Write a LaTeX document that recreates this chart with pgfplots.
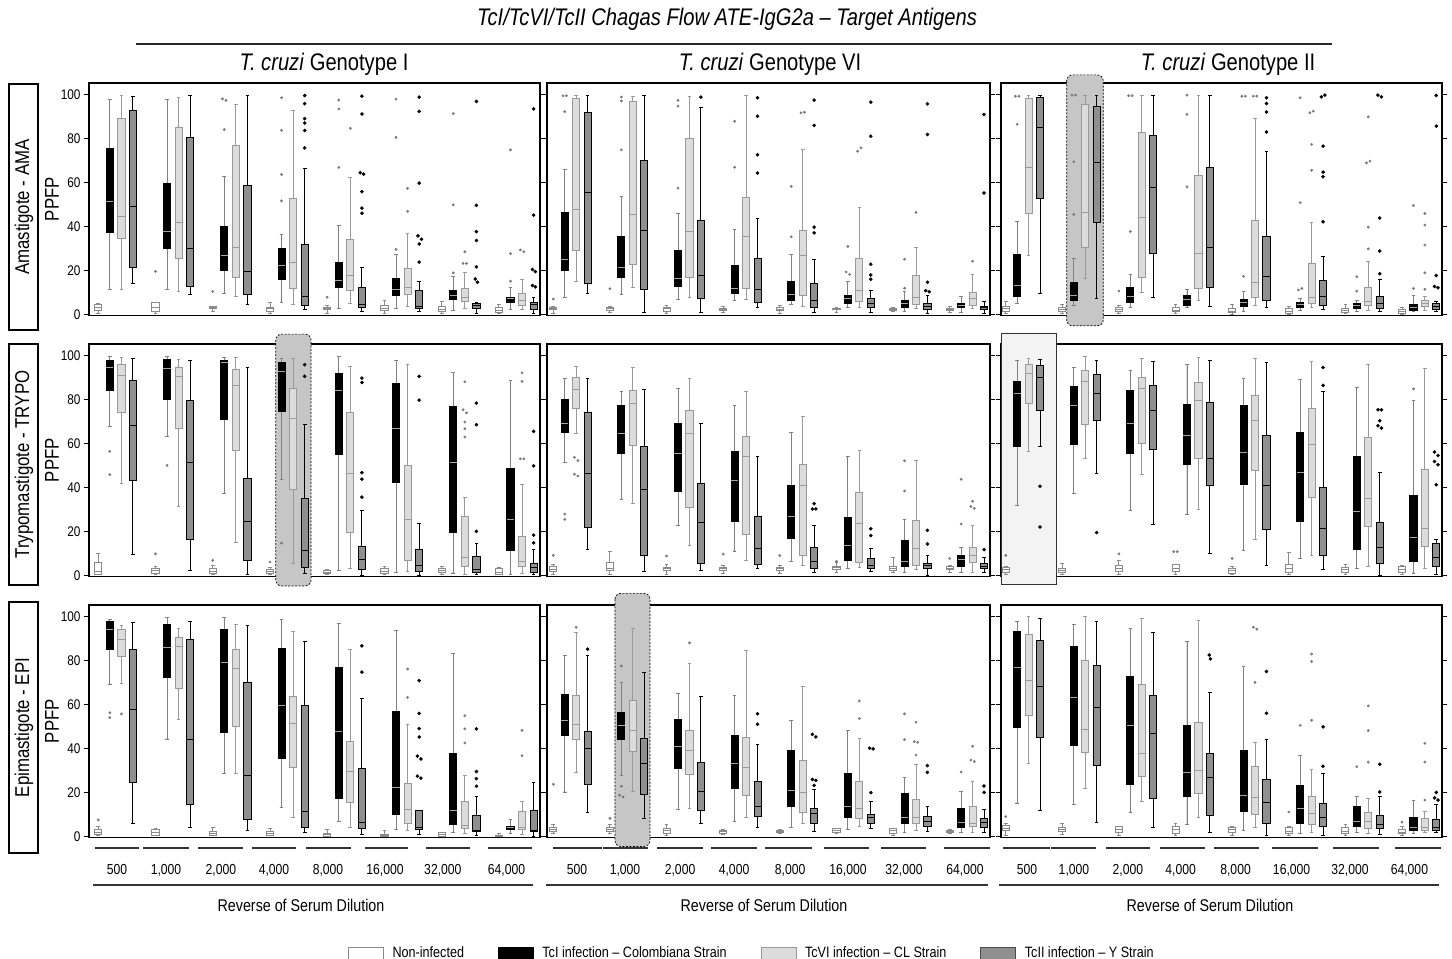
\documentclass[border=0pt]{standalone}
\usepackage{fontspec}
\setmainfont{Liberation Sans}[FakeStretch=0.84]
\usepackage{pgfplots}
\pgfplotsset{compat=1.18}
\usepgfplotslibrary{statistics}
\definecolor{ngray}{HTML}{8A8A8A}
\definecolor{vfill}{HTML}{DCDCDC}
\definecolor{vline}{HTML}{9A9A9A}
\definecolor{tfill}{HTML}{8F8F8F}
\definecolor{ogray}{HTML}{7A7A7A}
\definecolor{hlgray}{HTML}{C6C6C6}
\definecolor{hllight}{HTML}{F3F3F3}
\tikzset{hlD/.style={fill=hlgray, draw=black, dash pattern=on 2pt off 1.5pt, line width=0.7pt, rounded corners=6pt}}
\pgfplotsset{
 Nst/.style={draw=ngray, fill=white, line width=0.9pt, boxplot/every whisker/.style={draw=ngray}, boxplot/every median/.style={draw=ngray}},
 Ist/.style={draw=black, fill=black, line width=0.9pt, boxplot/every whisker/.style={draw=gray}, boxplot/every median/.style={draw=gray!70}},
 Vst/.style={draw=vline, fill=vfill, line width=0.9pt, boxplot/every whisker/.style={draw=vline}, boxplot/every median/.style={draw=vline}},
 Tst/.style={draw=black, fill=tfill, line width=0.9pt, boxplot/every whisker/.style={draw=black}, boxplot/every median/.style={draw=black}},
 Og/.style={only marks, mark=*, mark size=1.2pt, color=ogray},
 Ob/.style={only marks, mark=*, mark size=1.6pt, color=black},
 panel/.style={scale only axis, height=232.5pt, ymin=-0.5, ymax=105.2, ytick={0,20,40,60,80,100},
   ytick pos=both, tick align=outside, major tick length=5pt, xtick=\empty, clip=false,
   axis line style={line width=1.1pt}, every tick/.style={black, line width=0.8pt},
   tick label style={font=\fontsize{14}{16}\selectfont}, /pgf/number format/assume math mode=true,
   boxplot/draw direction=y, boxplot/box extend=0.62, boxplot/whisker extend=0.32, anchor=north west},
 cA/.style={width=451pt, xmin=-0.8, xmax=38.2, ylabel={PPFP},
   ylabel style={at={(axis description cs:-0.082,0.5)}, anchor=center, font=\fontsize{20}{22}\selectfont}},
 cB/.style={width=443pt, xmin=-0.55, xmax=38.17, yticklabel=\empty},
 cC/.style={width=441pt, xmin=-0.41, xmax=38.15, yticklabel=\empty},
 bot/.style={xtick style={draw=none}, xticklabel style={anchor=base, yshift=-32pt, font=\fontsize{14.5}{16}\selectfont}},
 lgbox/.style={legend image code/.code={\draw[##1] (0pt,-6pt) rectangle (35pt,6pt);}},
}
\newcommand\bx[7]{\addplot[#1,boxplot prepared={draw position=#2,lower whisker=#3,lower quartile=#4,median=#5,upper quartile=#6,upper whisker=#7}] coordinates {};}
\def\bxd#1#2#3,#4,#5,#6,#7\relax{\bx{#1}{#2}{#3}{#4}{#5}{#6}{#7}}
\newcommand\grp[5]{%
 \pgfmathsetmacro\pA{#1+1}\pgfmathsetmacro\pB{#1+2}\pgfmathsetmacro\pC{#1+3}%
 \edef\temp{\noexpand\bxd{Nst}{#1}#2\relax\noexpand\bxd{Ist}{\pA}#3\relax\noexpand\bxd{Vst}{\pB}#4\relax\noexpand\bxd{Tst}{\pC}#5\relax}%
 \temp}
\newcommand\fs[1]{\fontsize{#1}{#1}\selectfont}
\begin{document}
\begin{tikzpicture}
\useasboundingbox (0,0) rectangle (1452pt,-959pt);
% ---------------- Row 1 ----------------
\begin{axis}[panel, cA, at={(89pt,-83pt)}]
\grp{0}{0.5,2,3,4.5,5}{11.5,37.1,51.3,75.4,97.9}{11.5,34.7,44.6,89.1,99.5}{14.3,21.4,49.2,92.5,99.2}
\grp{4.95}{0.5,1.4,3.3,5.3,5.5}{11.5,30,37.7,59.4,97.9}{10.6,25.3,41.6,84.8,98.8}{9,12.7,29.9,80.5,99.5}
\grp{9.9}{1.5,2.6,3,3.5,3.8}{9.5,20.2,27,40,62.9}{8.3,17,30.5,76.8,95.6}{4.7,9.2,19.5,58.8,99.4}
\grp{14.85}{0.5,1.5,2.5,3.3,5.3}{5.6,15.7,22.2,29.9,36.2}{4.7,11.8,23.8,52.5,92.9}{2.3,3.9,8.3,32,66.2}
\grp{19.8}{0.5,2.1,2.7,3.3,4}{2.7,12.1,15.5,23.5,40.6}{5,10.9,17.6,34.2,62.4}{1.5,3.3,4.5,12.2,21.4}
\grp{24.75}{0.3,1.7,2.5,3.9,6.3}{2.6,8.7,11.3,16.3,27.1}{3.6,9.2,12.4,21,36.8}{1.2,2.7,3.6,10.9,15.1}
\grp{29.7}{0.5,1.4,2.3,3.5,6}{1.8,6.6,8.6,10.9,17.2}{2.6,5.9,7.7,11.9,18.9}{0.3,2.6,4.1,5.1,5.3}
\grp{34.65}{0.3,1.1,2,3.3,4.5}{2.1,5.3,7.4,7.7,12.2}{2.3,4.1,6.2,9.5,15.7}{0.3,2.1,4.4,5.6,7.8}
\addplot[Og] coordinates {(4.95,19.6) (9.9,10.4) (10.75,98) (11.05,97.3) (10.9,84) (15.85,98.5) (15.85,83.7) (15.85,63.6) (15.85,51.6) (19.8,7.8) (20.8,97.4) (20.8,93.4) (20.8,66.8) (21.8,84.6) (25.75,97.9) (25.75,80.5) (25.75,29.6) (26.75,57.3) (26.75,46.9) (30.7,91.3) (30.7,49.8) (30.7,18.9) (31.55,23.2) (31.85,23.2) (31.7,28.5) (35.65,74.8) (35.65,27.6) (35.65,15.1) (36.5,29.3) (36.8,28.5)};
\addplot[Ob] coordinates {(17.85,99.5) (17.85,95.8) (17.85,89) (17.85,87) (17.85,83.6) (17.85,75.7) (22.8,99.2) (22.8,91.1) (22.65,64.4) (22.95,63.8) (22.8,55.8) (22.8,48.3) (22.8,46) (27.75,98.8) (27.75,92.3) (27.75,59.7) (27.65,35.7) (27.95,34.2) (27.75,32) (27.75,23.8) (32.7,96.8) (32.7,49.6) (32.7,37.6) (32.7,33.6) (32.7,21.6) (32.6,16.1) (32.8,14.6) (37.65,93.4) (37.65,45.1) (37.55,20.4) (37.8,19.5) (37.55,13.1) (37.8,12.5)};
\end{axis}
\begin{axis}[panel, cB, at={(547pt,-83pt)}]
\grp{0}{0.5,2.3,2.7,3,3.5}{7.9,20.2,24.8,46.5,65.8}{14.9,29,47.6,98.2,99.7}{9.4,14.1,55.5,91.6,99.7}
\grp{4.95}{0.8,2,2.5,3,3.5}{9.1,16.7,21.3,35.3,53.6}{12.2,22.5,45.3,97,99.2}{0.9,11.4,38.1,69.8,99.7}
\grp{9.9}{0.5,1.5,2.5,3.2,4}{6.7,12.6,16.3,29.2,45.7}{7.6,16.7,37.5,79.8,99.2}{0.8,7.3,17.6,42.9,94.1}
\grp{14.85}{1,1.8,2.3,2.7,3.5}{6.4,9.3,11.7,22.2,38.8}{6.8,12,35.6,53.3,99.7}{3,5.3,11.4,25.4,43.8}
\grp{19.8}{0.5,1.7,2.3,3,4}{4.7,6.2,9.1,14.9,27.1}{3.8,8.8,26.6,38,75.2}{0.8,3.3,6.5,14,24.8}
\grp{24.75}{1,2.1,2.5,2.9,3.3}{3.3,5.2,7.3,8.7,15}{3.3,5.8,10.8,25.4,48.8}{0.8,3.2,5,7.3,10.8}
\grp{29.7}{1.2,2,2.3,2.7,3}{1.2,3.3,4.9,6.2,10.6}{2.7,4.7,7.9,17.9,30.4}{0.5,2.4,3.6,5,8.8}
\grp{34.65}{1,1.8,2.3,2.9,3.5}{0.9,3,4.1,4.9,8.2}{2.7,4,7.1,10.2,18.2}{0.5,2.4,3.2,3.8,6.1}
\addplot[Og] coordinates {(0,7) (0.85,99.4) (1.15,99.4) (1,92.2) (4.95,11.7) (5.95,98.8) (5.95,97) (5.95,74.8) (10.9,97.3) (10.9,94.7) (10.9,57.4) (15.85,87.8) (15.85,66.9) (20.8,58.2) (20.8,35.3) (21.65,91.6) (21.95,91.9) (25.75,30.9) (25.6,19.3) (25.9,18.2) (26.6,74.2) (26.9,75.7) (30.7,25.1) (30.7,11.9) (31.7,46.4) (36.65,24.2)};
\addplot[Ob] coordinates {(12.9,98.8) (17.85,98.5) (17.85,90.1) (17.85,72.6) (17.85,64.3) (22.8,97.4) (22.8,85.9) (22.8,39.7) (22.8,37.1) (27.75,96.5) (27.75,81) (27.75,22.8) (27.75,17.9) (27.75,16) (32.7,95.7) (32.7,81.8) (32.7,14.6) (32.55,10.8) (32.85,10.3) (37.65,90.9) (37.65,55.2)};
\end{axis}
\begin{axis}[panel, cC, at={(1001pt,-83pt)}]
\draw[hlD] (axis cs:5.33,108.9) rectangle (axis cs:8.53,-5.2);
\grp{0}{0.3,1.5,2.5,3.6,6}{4.8,8,13,27.3,42.4}{27,45.8,66.7,98.2,99.7}{9.5,52.6,84.8,98.5,99.7}
\grp{4.95}{0.5,1.5,2.3,3.3,4.5}{3.9,6.4,8.8,14.4,25.6}{16.4,30.6,46.4,95.5,99.7}{7.4,41.8,69.2,94.7,99.7}
\grp{9.9}{0.5,1.5,2.3,3.2,4}{3.3,5.3,8,12.3,18.3}{10.2,17,43.9,82.6,99.7}{7.6,27.7,57.9,81.5,99.7}
\grp{14.85}{0.3,1.2,2,3.3,4.5}{3,4.2,6.8,8.8,11.5}{6.5,11.8,27.7,63.2,99.7}{3.5,12.1,30.6,66.7,99.7}
\grp{19.8}{0.2,0.8,1.5,2.7,4.5}{1.5,3.6,5.6,6.7,10.5}{4.2,7.6,14.5,42.7,88.9}{3.3,6.4,17.1,35.5,74.2}
\grp{24.75}{0.2,0.6,1.5,2.6,3.5}{2,3.3,4.5,5.6,7.3}{3,5.2,7.6,23.2,42}{2.3,3.9,8.3,15.5,26.5}
\grp{29.7}{0.3,1.1,1.8,2.7,4.5}{1.5,2.7,4.1,5,6.4}{2,3.9,5.8,12.4,23.9}{1.5,2.9,5.2,8.3,16.1}
\grp{34.65}{0.2,0.6,1.5,2.3,3}{1.2,2,3.3,4.5,8.8}{2,3.6,5,6.4,8}{1.2,2.4,3.8,5,6.1}
\addplot[Og] coordinates {(0.85,99.2) (1.15,99.2) (1,86.4) (5.8,99.7) (6.1,99.7) (5.95,69.4) (5.95,45.5) (9.9,10.6) (10.75,99.4) (11.05,99.4) (10.9,37.7) (15.85,99.7) (15.85,90.9) (15.85,58) (20.8,17.3) (20.65,99.2) (20.95,99.2) (21.65,99.2) (21.95,99.2) (25.75,98.5) (25.75,50.8) (25.6,11.1) (25.9,11.8) (26.6,91.7) (26.9,92.4) (26.75,77.3) (26.75,65.5) (30.7,17.1) (30.7,10.6) (31.7,89.8) (31.55,68.9) (31.85,69.7) (31.7,39.7) (31.7,29.8) (35.65,49.5) (35.65,11.8) (36.65,45.9) (36.65,40.6) (36.65,31.5) (36.65,18.9) (36.65,11.4)};
\addplot[Ob] coordinates {(22.8,98.5) (22.8,95.9) (22.8,92) (22.8,82.9) (27.6,98.9) (27.9,99.7) (27.75,76.5) (27.75,64.7) (27.75,62.6) (27.75,42.1) (32.55,99.7) (32.85,98.9) (32.7,43.8) (32.7,28.8) (32.7,18.5) (37.65,99.5) (37.65,85.6) (37.65,17.7) (37.5,12.7) (37.8,12.1)};
\end{axis}
% ---------------- Row 2 ----------------
\begin{axis}[panel, cA, at={(89pt,-344pt)}]
\draw[hlD] (axis cs:15.35,109.7) rectangle (axis cs:18.4,-4.8);
\grp{0}{0.3,0.6,1.8,5.9,10.2}{67.9,84.1,94.5,97.9,99.5}{41.7,74.1,90.8,96.1,99.1}{9.4,43.2,68.3,88.6,98.5}
\grp{4.95}{0.5,1.1,2.2,3.3,4}{63.2,79.8,94.2,98.2,99.5}{31.2,66.8,90.3,94.7,98.2}{2.3,16.2,51.5,79.4,97.6}
\grp{9.9}{0.3,1.1,2,3,4.5}{37.4,71.1,96.8,97.6,99.2}{15,57,86.5,93.8,99.2}{0.6,6.7,24.4,44.2,94.5}
\grp{14.85}{0.5,1.1,1.8,2.6,3.5}{43.6,74.7,92.6,96.8,98.8}{5.5,39.1,71.5,85.2,98.5}{1.1,3.5,11.2,34.8,68.5}
\grp{19.8}{0.5,0.9,1.5,2.1,2.5}{2.4,54.8,83.9,92,99.5}{3.2,19.4,46.5,74.2,94.8}{0.2,2.7,7.1,13.3,29.4}
\grp{24.75}{0.3,1.1,2,3,4}{1.4,42.4,66.8,87.1,97.6}{1.7,6.7,25.6,49.8,95.8}{0.2,1.8,4.4,12,23.8}
\grp{29.7}{0.5,1.2,2.3,3.3,4}{1.1,19.4,51.5,77,92.3}{0.3,4.2,8.3,27,35.6}{0.6,1.5,2.6,8.5,14.4}
\grp{34.65}{0.3,0.6,1.5,3,3.5}{0.3,11.5,25.3,48.6,88.5}{1.1,4.1,6.4,17.9,41.2}{0.6,1.4,3.6,5.5,11.8}
\addplot[Og] coordinates {(1,56.4) (1,45.8) (4.95,9.8) (5.95,50) (9.9,6.8) (14.85,6.1) (15.85,14.7) (31.7,88) (31.55,75.3) (31.85,73.9) (31.7,69.7) (31.7,66.7) (31.7,62.9) (36.65,92.1) (36.65,88.2) (36.5,53) (36.8,53)};
\addplot[Ob] coordinates {(17.85,95.8) (17.85,90.5) (22.8,89.7) (22.8,87.7) (22.8,46.7) (22.8,43.8) (22.8,35.6) (27.75,90.5) (27.75,79.7) (32.7,78.3) (32.7,68.5) (32.7,20) (37.65,65.5) (37.65,49.8) (37.65,18.3) (37.65,14.8)};
\end{axis}
\begin{axis}[panel, cB, at={(547pt,-344pt)}]
\grp{0}{0.5,1.7,2.5,3.9,5}{51.3,64.8,69.3,80,89.5}{64.6,75.7,84.7,90.1,94.8}{11.7,21.7,46.4,74.2,89.4}
\grp{4.95}{0.5,2.1,3,5.8,11.1}{34.4,55.5,64.6,77.1,83.6}{32.9,59.3,78.3,84.1,94.7}{1.7,9.3,39.3,58.6,84.7}
\grp{9.9}{0.5,2.4,3,3.8,5}{22.6,38.1,55.5,69.3,84.8}{13.8,30.8,64.5,75.1,89.7}{2.1,5.6,24.3,41.7,69}
\grp{14.85}{1,2.1,3,3.8,4.5}{11.1,24.4,43.1,56.3,77.1}{7,18.8,54.3,63.4,83.5}{3,5.2,12.1,26.9,54.2}
\grp{19.8}{1,2.3,3,3.6,4.5}{6.4,16.7,26.7,40.7,64.8}{4.6,9,41,50.5,72.1}{1.2,3.3,6.2,12.6,22.8}
\grp{24.75}{1.5,2.9,3.5,4.1,5.9}{3,7,13.4,26.3,54}{3.8,5.9,23.5,37.6,56.6}{1.7,3.2,4.7,7.7,12.3}
\grp{29.7}{1.2,2.3,3,4.1,8.3}{1.5,4.1,6.4,15.9,25.5}{2.7,4.6,12.1,25.2,52.1}{0.2,3.2,4.4,5.6,9}
\grp{34.65}{1.5,2.6,3.2,3.9,4.5}{1.5,4.2,7.3,9.1,12.6}{1.4,5.8,9,12.9,22.5}{1.4,3.2,4.1,5.3,8.3}
\addplot[Og] coordinates {(0,9.1) (1,27.9) (1,25.5) (1.85,53.7) (2.15,52.2) (1.85,46) (2.15,45.2) (9.9,8.8) (14.85,9.7) (19.8,9) (24.75,6.4) (30.7,52.1) (30.7,38.4) (34.65,7.7) (35.65,43.7) (35.65,23.4) (36.65,33.7) (36.5,31.3) (36.8,30.5)};
\addplot[Ob] coordinates {(22.8,32.6) (22.65,30.2) (22.95,30.2) (27.75,21.2) (27.75,18.1) (32.7,20.5) (32.7,14.3) (37.65,11.7)};
\end{axis}
\begin{axis}[panel, cC, at={(1001pt,-344pt)}]
\draw[fill=hllight, draw=black!80, line width=0.7pt] (axis cs:-0.41,110.1) rectangle (axis cs:4.46,-3.9);
\grp{0}{0.5,1.4,2.5,3.6,4}{31.8,58.6,82.6,88.2,97.6}{56.4,78,91.7,95.8,98.8}{58.5,75,90,95.5,98}
\grp{4.95}{0.5,1.2,2.3,3.3,5.5}{37.4,59.5,77.4,85.9,94.7}{53.3,68.5,88.2,93.2,99.4}{46.5,70.5,82.6,91.5,97.9}
\grp{9.9}{0.5,2,3,4.5,7}{29.7,55.6,69.2,84.1,93.2}{46.1,60.2,84.8,90.2,98.5}{23.3,57.4,75,86.5,97.3}
\grp{14.85}{0.5,2,3,5,5}{27.9,50.3,63.6,77.9,95.8}{30,53,79.4,87.7,99.1}{10,40.8,53.3,78.8,97.6}
\grp{19.8}{0.5,1.1,2.3,3.3,4}{11.4,41.5,55.9,77.1,89.4}{16.2,47.9,70.3,81.7,98.8}{4.5,21.1,40.9,63.5,96.8}
\grp{24.75}{0.5,1.5,3,5,10.6}{7.7,24.7,46.8,64.8,88.9}{9.1,35.5,59.7,76.1,97.3}{2.7,9.2,21.2,40,83.6}
\grp{29.7}{0.5,1.5,2.5,3.6,5}{3.3,11.8,28.9,54.2,85.6}{3.9,22.4,35.2,62.7,95.8}{0,5.5,12.6,24.2,46.7}
\grp{34.65}{0.5,1.5,2.5,4.1,4.5}{1.1,6.4,17.4,36.4,79.7}{3.3,13,21.2,48.3,94.2}{0.3,4.1,8.2,14.4,16.4}
\addplot[Og] coordinates {(0,9.1) (9.9,9.8) (14.7,10.8) (15,10.8) (19.8,7.7) (35.65,84.8)};
\addplot[Ob] coordinates {(3,40.5) (3,22) (7.95,19.5) (27.75,94.5) (27.75,86.4) (32.55,75.3) (32.85,75.3) (32.7,70.3) (32.55,68) (32.85,67) (37.5,56.1) (37.8,54.5) (37.5,51.8) (37.8,50.3) (37.65,41.2)};
\end{axis}
% ---------------- Row 3 ----------------
\begin{axis}[panel, cA, bot, at={(89pt,-605pt)},
  xtick={1.62,5.86,10.61,15.2,19.87,24.8,29.8,35.3},
  xticklabels={500,{1,000},{2,000},{4,000},{8,000},{16,000},{32,000},{64,000}},
  legend style={at={(1.470,-0.498)}, anchor=center, legend columns=4, draw=none, fill=none,
    font=\fontsize{15}{17}\selectfont, /tikz/every odd column/.append style={column sep=7pt},
    /tikz/every even column/.append style={column sep=32pt}},
  legend cell align=left]
\addlegendimage{lgbox, draw=ngray, fill=white}\addlegendentry{Non-infected}
\addlegendimage{lgbox, draw=black, fill=black}\addlegendentry{TcI infection – Colombiana Strain}
\addlegendimage{lgbox, draw=vline, fill=vfill}\addlegendentry{TcVI infection – CL Strain}
\addlegendimage{lgbox, draw=black!70, fill=tfill}\addlegendentry{TcII infection – Y Strain}
\grp{0}{0.3,1.1,2,3,4.6}{69.3,85.2,93.9,97.6,98.5}{69.6,82,89.5,94.1,96}{5.9,24.4,57.8,84.8,97.4}
\grp{4.95}{0.3,0.6,1.8,3.2,3.5}{44.3,72.1,86.1,96.5,99.5}{53.1,67.3,86.5,90.6,94.7}{4,14.5,44.1,89.5,97.9}
\grp{9.9}{0.3,0.6,1.3,2.1,4.3}{28.5,47.2,79.1,94.1,99.4}{28.5,49.9,76.4,85.2,96.2}{2.6,7.8,27.5,69.9,96}
\grp{14.85}{0.3,0.5,1.5,2.3,3.5}{13.2,35.6,59.7,85.5,98.8}{8.7,31.2,51.3,63.8,93}{2,4.1,11.3,59.5,88.7}
\grp{19.8}{0,0.2,0.8,1.4,3}{6.7,17.2,47.9,76.7,96.7}{4.1,15.4,29.5,43.2,85.1}{0.9,3.8,6.2,30.9,62.7}
\grp{24.75}{0,0,0.5,1.1,2.8}{3,9.9,22.4,56.6,93.5}{2.6,5.8,12.2,24,51}{0.8,3,4.1,11.7,11.7}
\grp{29.7}{0,0,1,1.8,1.8}{2,5.3,12,37.9,83.3}{1.4,3.8,5,15.7,27.5}{0.3,2.3,2.9,9.6,18.1}
\grp{34.65}{0,0,0.3,0.6,1.5}{1.4,3,4,4.4,7.6}{1.1,3,4.1,11.3,15.7}{0,2.1,2.9,12,24.4}
\addplot[Og] coordinates {(0,7.5) (1,56.2) (1,54) (2,55.7) (26.75,76.1) (26.75,63.2) (31.7,54.9) (31.7,48.9) (31.7,42.5) (36.65,48.2) (36.65,36.7)};
\addplot[Ob] coordinates {(22.8,86.6) (22.8,74.7) (27.75,70.8) (27.75,55.9) (27.75,49) (27.75,45.2) (27.6,36.5) (27.9,35.2) (27.6,27.4) (27.9,26.5) (32.7,48.9) (32.7,29.5) (32.7,26.3) (32.7,22.8)};
\end{axis}
\begin{axis}[panel, cB, bot, at={(547pt,-605pt)},
  xtick={2.07,6.27,11.08,15.8,20.7,25.76,30.65,35.98},
  xticklabels={500,{1,000},{2,000},{4,000},{8,000},{16,000},{32,000},{64,000}}]
\draw[hlD] (axis cs:5.39,110.5) rectangle (axis cs:8.45,-4.6);
\grp{0}{1.5,2.4,3.2,3.9,5.5}{20.2,45.8,52.5,64.5,82.1}{29,44.3,51,64.3,92.9}{10.8,23.4,39.8,47.6,82.1}
\grp{4.95}{1.5,2.4,3.2,3.9,5.5}{27.6,43.9,50.5,56.3,69.8}{20.3,38.5,48,61.6,94.7}{8.2,19.1,33.2,44.6,74.5}
\grp{9.9}{0.5,1.5,2.5,3.5,5.3}{12.3,30.7,41,53.4,64.9}{12.9,28.1,39,48.3,78.6}{6.1,11.8,20.6,33.8,63.6}
\grp{14.85}{1,1.5,2.2,2.9,3.2}{6.8,21.7,33.2,45.8,64}{8.5,18.5,31.3,44.9,84.7}{3.9,9.1,13.7,25,41.7}
\grp{19.8}{1.3,1.8,2.3,2.7,3}{3.9,13.5,20.9,39.3,52.5}{5.8,10.8,20,34.6,68.1}{2.4,6.1,10.3,12.6,21.5}
\grp{24.75}{1.2,1.7,2.6,3.5,3.5}{3.2,8.5,13.4,28.7,48.1}{4.6,8,12.6,25,44.5}{3.5,5.8,8.5,10,16.1}
\grp{29.7}{0.5,1.5,2.5,3.5,3.5}{2,5.8,8.5,19.6,26.7}{2.7,6.1,8.6,17,32.6}{2.4,4.6,7,9,13.7}
\grp{34.65}{1.2,1.8,2.3,2.9,3}{1.8,4.2,6.4,12.7,20.6}{2,4.6,5.9,13.7,25.2}{1.7,4.1,6.2,8,12.3}
\addplot[Og] coordinates {(0,23.7) (2,95.1) (4.95,8.2) (5.95,77.5) (5.95,22.8) (5.8,18.7) (6.1,17.9) (11.9,88) (26.75,61.6) (26.75,53.6) (30.7,55.7) (30.7,44) (31.7,51.9) (31.55,43.1) (31.85,42.8) (31.7,37) (35.65,29.3) (36.65,41) (36.5,34.7) (36.8,34.1)};
\addplot[Ob] coordinates {(3,85.1) (17.85,55.8) (17.85,51) (22.65,46.4) (22.95,45.2) (22.65,25.9) (22.95,25.5) (22.8,23.2) (27.65,40.1) (27.95,39.8) (27.75,19.9) (32.7,32.2) (32.7,29.1) (37.65,22.9) (37.65,20)};
\end{axis}
\begin{axis}[panel, cC, bot, at={(1001pt,-605pt)},
  xtick={1.86,5.97,10.69,15.3,20.1,25.0,30.1,35.3},
  xticklabels={500,{1,000},{2,000},{4,000},{8,000},{16,000},{32,000},{64,000}}]
\grp{0}{0.5,2.7,3.5,5,6}{15.2,49.5,76.9,93.3,97.7}{33.2,54.9,70.7,91.7,99.8}{11.8,45.2,68.4,88.9,99.1}
\grp{4.95}{1,2.1,3,3.9,6}{14.4,41.3,63.1,86.3,96.5}{22,38.1,48.4,79.8,99.8}{6.2,32.3,58.6,77.5,97.7}
\grp{9.9}{0.5,2,3.3,4.6,4.6}{11.1,23.7,50.5,72.5,94.7}{16.1,27.3,37.6,68.9,99.2}{3.9,17.1,46.9,64,92.6}
\grp{14.85}{0.5,1.5,3,4.6,6}{5.5,18.2,29,50.4,88.6}{8.5,19.4,30,51.6,98.3}{1.7,9.7,27,37.5,65.4}
\grp{19.8}{0.5,1.7,3,4.2,4.6}{2.9,11.5,18.7,39.3,77.4}{3.9,10,17.9,31.7,42.6}{0.6,6.1,15.3,25.8,44.3}
\grp{24.75}{0.3,1.2,2.4,3.9,4.5}{1.2,6.1,12.6,23.2,36.6}{2,5.3,10.5,18.2,30.5}{0.6,4.4,8.5,14.9,28.5}
\grp{29.7}{0.3,1.2,2.4,3.9,5.5}{2,4.6,7,13.7,18.2}{1.2,3.6,7,10.9,17.3}{0.9,3.5,5.3,9.6,18.1}
\grp{34.65}{0.5,1.2,2,3.2,4.5}{1.2,2.7,3.9,8.5,16.4}{2,2.9,4.2,8.2,11.2}{1.7,2.7,4.2,7.7,14.6}
\addplot[Og] coordinates {(0,9) (21.65,95.1) (21.95,94.2) (21.8,70) (24.75,11.1) (25.75,50.5) (26.75,82.9) (26.75,79.5) (26.75,52.8) (30.7,31.7) (31.7,59.3) (31.7,48.1) (31.7,33.8) (34.65,6.5) (36.65,42.3) (36.65,33.8) (36.65,16.5)};
\addplot[Ob] coordinates {(17.8,82.5) (17.9,80.7) (22.8,75) (22.8,56) (27.75,49.8) (27.75,31.9) (32.7,32.8) (32.7,20.2) (37.65,20) (37.5,17.5) (37.8,16.5)};
\end{axis}
% ---------------- Decorations ----------------
\node[font=\itshape\fs{24}] at (727pt,-19pt) {TcI/TcVI/TcII Chagas Flow ATE-IgG2a – Target Antigens};
\draw[line width=1.3pt, black!85] (136pt,-44pt) -- (1332pt,-44pt);
\node[font=\fs{24}] at (324pt,-64pt) {\textit{T. cruzi} Genotype I};
\node[font=\fs{24}] at (770pt,-64pt) {\textit{T. cruzi} Genotype VI};
\node[font=\fs{24}] at (1228pt,-64pt) {\textit{T. cruzi} Genotype II};
\draw[line width=1.2pt] (9pt,-84pt) rectangle (38pt,-330pt);
\draw[line width=1.2pt] (9pt,-344pt) rectangle (38pt,-585pt);
\draw[line width=1.2pt] (9pt,-602pt) rectangle (38pt,-853pt);
\node[rotate=90, font=\fs{20}] at (24pt,-207pt) {Amastigote - AMA};
\node[rotate=90, font=\fs{20}] at (24pt,-464.5pt) {Trypomastigote - TRYPO};
\node[rotate=90, font=\fs{20}] at (24pt,-727.5pt) {Epimastigote - EPI};
\foreach \a/\b in {95/139,143/189,198/243,252/296,306/351,365/408,426/470,488/532,
  553/602,603/648,657/703,711/757,765/812,824/869,881/926,944/990,
  1003/1050,1051/1096,1106/1150,1160/1205,1214/1259,1272/1318,1333/1379,1395/1441}
  {\draw[line width=1.1pt, black!80] (\a pt,-848pt) -- (\b pt,-848pt);}
\draw[line width=1.1pt, black!80] (93pt,-885pt) -- (533pt,-885pt);
\draw[line width=1.1pt, black!80] (546pt,-885pt) -- (988pt,-885pt);
\draw[line width=1.1pt, black!80] (999pt,-885pt) -- (1439pt,-885pt);
\node[font=\fs{17}] at (301pt,-905pt) {Reverse of Serum Dilution};
\node[font=\fs{17}] at (764pt,-905pt) {Reverse of Serum Dilution};
\node[font=\fs{17}] at (1210pt,-905pt) {Reverse of Serum Dilution};
\end{tikzpicture}
\end{document}
